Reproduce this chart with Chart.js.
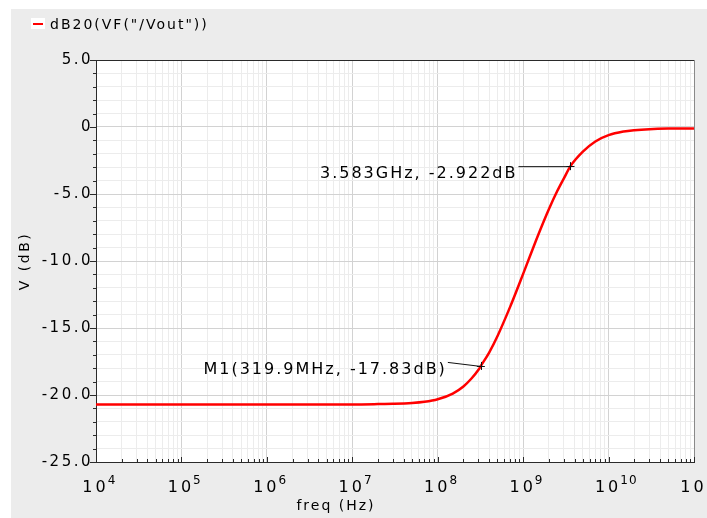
<!DOCTYPE html>
<html>
<head>
<meta charset="utf-8">
<script src="https://cdn.jsdelivr.net/npm/chart.js@4.4.1/dist/chart.umd.min.js"></script>
<style>
  html, body { margin: 0; padding: 0; background: #fff; }
  canvas { display: block; }
</style>
</head>
<body>
<canvas id="bodePlot" width="707" height="518"></canvas>
<script>
// trace: frequency (Hz) and gain (dB)
const traceName = 'dB20(VF("/Vout"))';
const freqHz = [1e4, 1e5, 1e6, 1e7, 2e7, 3e7, 5e7, 7e7, 1e8, 1.5e8, 2e8, 2.5e8, 3e8, 3.199e8, 4e8, 5e8, 7e8,
  1e9, 1.2e9, 1.5e9, 2e9, 2.5e9, 3e9, 3.583e9, 5e9, 7e9, 1e10, 1.5e10, 2e10, 3e10, 5e10, 1e11];
const gainDb = [-20.70, -20.70, -20.70, -20.70, -20.68, -20.66, -20.60, -20.51, -20.32, -19.89, -19.36, -18.75, -18.12, -17.83, -16.83, -15.61, -13.46,
  -10.96, -9.65, -8.06, -6.14, -4.80, -3.83, -2.92, -1.84, -1.08, -0.61, -0.34, -0.24, -0.16, -0.12, -0.11];

// markers
const markerFreq = [3.199e8, 3.583e9];
const markerDb = [-17.83, -2.922];
const markerText = ["M1(319.9MHz, -17.83dB)", "3.583GHz, -2.922dB"];

// axes
const xDecades = [4, 5, 6, 7, 8, 9, 10, 11];
const yTickValues = [5, 0, -5, -10, -15, -20, -25];
const yTickLabels = ["5.0", "0", "-5.0", "-10.0", "-15.0", "-20.0", "-25.0"];
const xTitle = "freq (Hz)";
const yTitle = "V (dB)";

const FONT = "DejaVu Sans";
const PANEL = "#ececec";
const AXIS = "#2a2a2a";
const INK = "#000";

const isMajorY = (v) => yTickValues.includes(v);

const vivaLook = {
  id: "vivaLook",
  beforeUpdate(chart) {
    chart.ctx.letterSpacing = "2.5px";
  },
  beforeDraw(chart) {
    const { ctx, width, height, chartArea: a } = chart;
    ctx.letterSpacing = "2.5px";
    ctx.save();
    ctx.fillStyle = "#ffffff";
    ctx.fillRect(0, 0, width, height);
    ctx.fillStyle = PANEL;
    ctx.fillRect(11, 9, width - 11, height - 9);
    ctx.fillStyle = "#ffffff";
    ctx.fillRect(a.left, a.top, a.right - a.left, a.bottom - a.top);
    ctx.restore();
  },
  afterDatasetsDraw(chart) {
    const { ctx } = chart;
    const xs = chart.scales.x, ys = chart.scales.y;
    const gap = [35, 54];
    const textDy = [4, 8];
    const leadDy = [-4, 0];
    ctx.save();
    ctx.font = `16px "${FONT}"`;
    ctx.letterSpacing = "2px";
    ctx.fillStyle = INK;
    ctx.strokeStyle = "#111";
    ctx.lineWidth = 1;
    markerFreq.forEach((f, i) => {
      const px = xs.getPixelForValue(f);
      const py = ys.getPixelForValue(markerDb[i]);
      ctx.textAlign = "right";
      ctx.textBaseline = "middle";
      ctx.fillText(markerText[i], px - gap[i] + 1, py + textDy[i]);
      ctx.beginPath();
      ctx.moveTo(px - gap[i] + 2, py + leadDy[i] + 0.5);
      ctx.lineTo(px, py + 0.5);
      ctx.stroke();
      ctx.beginPath();
      ctx.moveTo(px - 4, Math.round(py) + 0.5);
      ctx.lineTo(px + 4, Math.round(py) + 0.5);
      ctx.moveTo(Math.round(px) + 0.5, py - 4);
      ctx.lineTo(Math.round(px) + 0.5, py + 4);
      ctx.stroke();
    });
    ctx.restore();
  },
  afterDraw(chart) {
    const { ctx, chartArea: a } = chart;
    const xs = chart.scales.x, ys = chart.scales.y;
    ctx.save();
    // frame top/right
    ctx.strokeStyle = AXIS;
    ctx.lineWidth = 1;
    ctx.beginPath();
    ctx.moveTo(a.left, a.top + 0.5);
    ctx.lineTo(a.right, a.top + 0.5);
    ctx.stroke();
    ctx.strokeStyle = "#8a8a8a";
    ctx.beginPath();
    ctx.moveTo(a.right + 0.5, a.top);
    ctx.lineTo(a.right + 0.5, a.bottom);
    ctx.stroke();

    // y tick marks (outside, left)
    ctx.strokeStyle = AXIS;
    ys.ticks.forEach((t) => {
      const y = Math.round(ys.getPixelForValue(t.value)) + 0.5;
      const len = isMajorY(t.value) ? 6 : 3;
      ctx.beginPath();
      ctx.moveTo(a.left - len, y);
      ctx.lineTo(a.left, y);
      ctx.stroke();
    });
    // x tick marks (inside, up)
    xs.ticks.forEach((t) => {
      const x = Math.round(xs.getPixelForValue(t.value)) + 0.5;
      const len = t.major ? 5 : 3;
      ctx.beginPath();
      ctx.moveTo(x, a.bottom);
      ctx.lineTo(x, a.bottom - len);
      ctx.stroke();
    });

    // x labels 10^n
    ctx.fillStyle = INK;
    ctx.textBaseline = "alphabetic";
    ctx.textAlign = "left";
    xDecades.forEach((e) => {
      const x = xs.getPixelForValue(Math.pow(10, e));
      ctx.font = `16px "${FONT}"`;
      ctx.letterSpacing = "3px";
      const w = ctx.measureText("10").width - 3;
      const x0 = x - 2 - w / 2;
      ctx.fillText("10", x0, 492);
      ctx.font = `12px "${FONT}"`;
      ctx.letterSpacing = "1px";
      ctx.fillText(String(e), x0 + w + 2, 484);
    });

    // x title
    ctx.font = `14px "${FONT}"`;
    ctx.letterSpacing = "2px";
    ctx.textAlign = "center";
    ctx.textBaseline = "middle";
    ctx.fillText(xTitle, 336, 506);

    // legend
    ctx.fillStyle = "#ffffff";
    ctx.fillRect(31, 18, 14, 11);
    ctx.strokeStyle = "#ff0000";
    ctx.lineWidth = 2;
    ctx.beginPath();
    ctx.moveTo(33, 24);
    ctx.lineTo(43, 24);
    ctx.stroke();
    ctx.fillStyle = INK;
    ctx.textAlign = "left";
    ctx.textBaseline = "alphabetic";
    ctx.fillText(traceName, 50, 29);
    ctx.restore();
  }
};

new Chart(document.getElementById("bodePlot"), {
  type: "line",
  data: {
    datasets: [{
      label: traceName,
      data: freqHz.map((f, i) => ({ x: f, y: gainDb[i] })),
      borderColor: "#ff0000",
      borderWidth: 2.5,
      pointRadius: 0,
      cubicInterpolationMode: "monotone",
      fill: false
    }]
  },
  options: {
    responsive: false,
    animation: false,
    devicePixelRatio: 1,
    layout: { padding: { left: 0, top: 60, right: 13, bottom: 0 } },
    plugins: { legend: { display: false }, tooltip: { enabled: false } },
    scales: {
      x: {
        type: "logarithmic",
        min: 1e4,
        max: 1e11,
        afterBuildTicks: (scale) => {
          const ticks = [];
          xDecades.forEach((e) => {
            for (let m = 1; m <= 9; m++) {
              const v = m * Math.pow(10, e);
              if (v <= 1e11) ticks.push({ value: v, major: m === 1 });
            }
          });
          scale.ticks = ticks;
        },
        afterFit: (scale) => { scale.height = 56; },
        ticks: { display: false, autoSkip: false },
        grid: {
          drawTicks: false,
          color: (c) => (c.tick && c.tick.major ? "#d2d2d2" : "#ececec"),
          lineWidth: 1
        },
        border: { display: true, color: AXIS, width: 1 }
      },
      y: {
        type: "linear",
        min: -25,
        max: 5,
        afterFit: (scale) => { scale.width = 96; },
        ticks: {
          stepSize: 1,
          autoSkip: false,
          padding: 3,
          color: INK,
          font: { family: FONT, size: 15 },
          callback: (v) => {
            const k = yTickValues.indexOf(v);
            return k >= 0 ? yTickLabels[k] : "";
          }
        },
        grid: {
          drawTicks: false,
          color: (c) => (c.tick && isMajorY(c.tick.value) ? "#d2d2d2" : "#ececec"),
          lineWidth: 1
        },
        border: { display: true, color: AXIS, width: 1 },
        title: {
          display: true,
          text: yTitle,
          color: INK,
          font: { family: FONT, size: 14 },
          padding: { top: 17, bottom: 0 }
        }
      }
    }
  },
  plugins: [vivaLook]
});
</script>
</body>
</html>
